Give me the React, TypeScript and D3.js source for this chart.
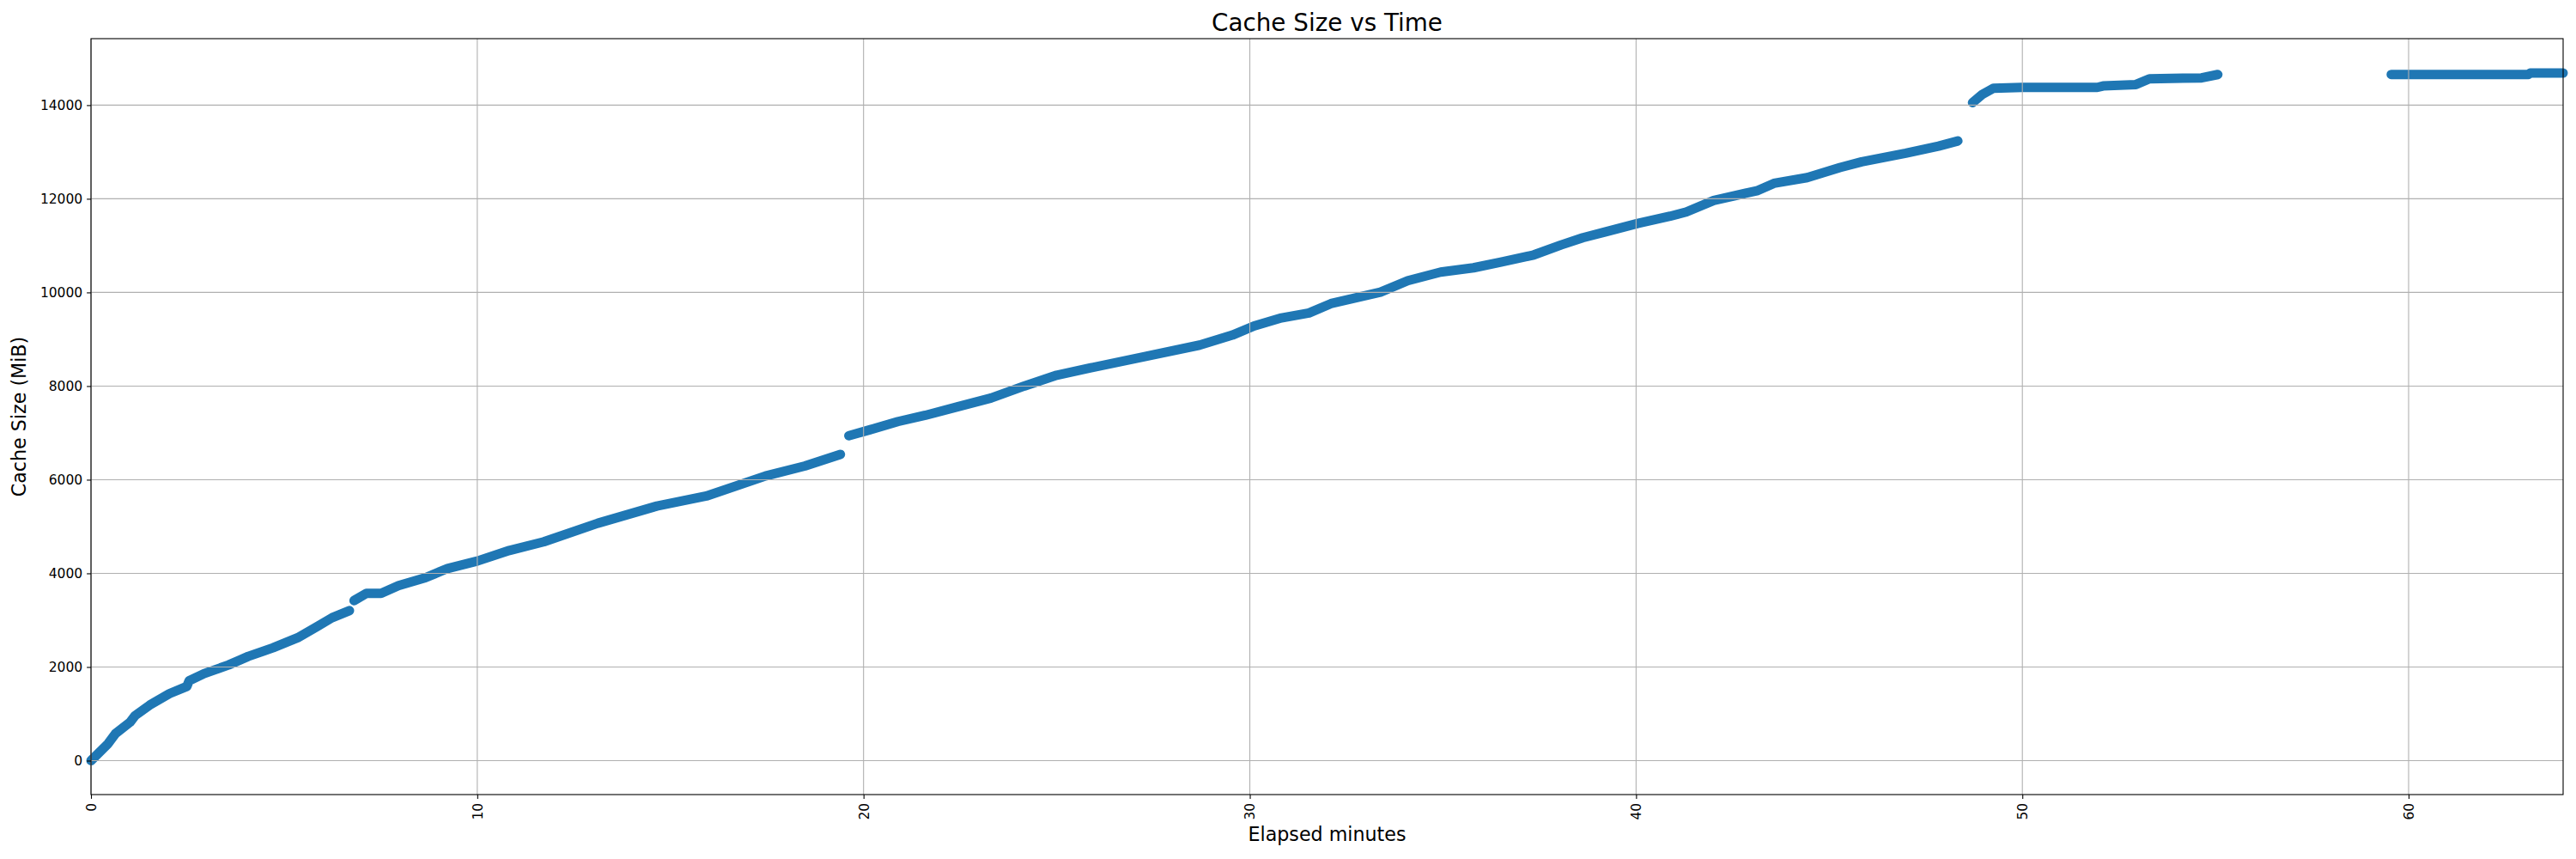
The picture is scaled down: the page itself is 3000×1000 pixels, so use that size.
import * as d3 from "d3";
import React, {useEffect, useRef} from "react";

// null marks a gap in the recording
const elapsedMinutes: number[] = [
  0, 0.44, 0.63, 1.01, 1.14, 1.52, 2.03, 2.48, 2.54, 2.93, 3.56, 4.07, 4.71, 5.35, 5.86, 6.24, 6.69,
  6.7,
  6.81, 7.13, 7.51, 7.96, 8.66, 9.23, 10.0, 10.83, 11.72, 13.12, 14.65, 15.93, 17.46, 18.48, 19.4,
  19.5,
  19.62, 20.18, 20.89, 21.6, 22.45, 23.3, 24.16, 25.0, 25.86, 27.28, 28.7, 29.55, 30.11, 30.82, 31.53,
  32.1, 33.38, 34.09, 34.94, 35.79, 36.5, 37.35, 38.06, 38.62, 39.19, 40.04, 40.88, 41.3, 42.01,
  43.15, 43.57, 44.43, 45.28, 45.84, 46.98, 47.83, 48.33,
  48.5,
  48.71, 48.96, 49.25, 49.99, 51.94, 52.09, 52.94, 53.29, 54.64, 55.06,
  57.0,
  59.55, 61.0, 63.1, 63.15, 64.0,
];

const cacheMiB: (number | null)[] = [
  0, 360, 575, 820, 960, 1186, 1431, 1584, 1706, 1859, 2043, 2226, 2410, 2624, 2868, 3052, 3205,
  null,
  3419, 3572, 3572, 3737, 3908, 4104, 4263, 4489, 4673, 5070, 5437, 5651, 6079, 6293, 6540,
  null,
  6940, 7070, 7242, 7376, 7560, 7743, 8000, 8232, 8385, 8630, 8875, 9089, 9284, 9456, 9560,
  9761, 10006, 10250, 10434, 10526, 10648, 10801, 11015, 11168, 11290, 11474, 11627, 11719, 11963,
  12177, 12330, 12453, 12667, 12789, 12972, 13125, 13235,
  null,
  14055, 14226, 14361, 14379, 14379, 14410, 14440, 14563, 14581, 14654,
  null,
  14656, 14656, 14656, 14684, 14686,
];

const xTicks = [0, 10, 20, 30, 40, 50, 60];
const yTicks = [0, 2000, 4000, 6000, 8000, 10000, 12000, 14000];

const App: React.FC = () => {
  const ref = useRef<SVGSVGElement | null>(null);

  useEffect(() => {
    const svg = d3.select(ref.current);
    svg.selectAll('*').remove();

    const width = 3000;
    const height = 1000;
    const margin = { top: 45, right: 15, bottom: 75, left: 106 };
    const font = 'DejaVu Sans, sans-serif';
    const tickFont = '15.5px';

    const xScale = d3.scaleLinear().domain([0, 64]).range([margin.left, width - margin.right]);
    const yScale = d3.scaleLinear().domain([-725, 15420]).range([height - margin.bottom, margin.top]);

    const points = elapsedMinutes.map((m, i) => ({ m, v: cacheMiB[i] }));

    const line = d3.line<{ m: number, v: number | null }>()
      .defined((d) => d.v !== null)
      .x((d) => xScale(d.m))
      .y((d) => yScale(d.v as number));

    svg.append('path')
      .datum(points)
      .attr('d', line)
      .attr('fill', 'none')
      .attr('stroke', '#1f77b4')
      .attr('stroke-width', 11)
      .attr('stroke-linecap', 'round')
      .attr('stroke-linejoin', 'round');

    // grid sits on top of the scatter, like matplotlib does
    const grid = svg.append('g').attr('stroke', '#b0b0b0').attr('stroke-width', 1.1);
    grid.selectAll('.gx').data(xTicks).enter().append('line')
      .attr('x1', (d) => xScale(d)).attr('x2', (d) => xScale(d))
      .attr('y1', margin.top).attr('y2', height - margin.bottom);
    grid.selectAll('.gy').data(yTicks).enter().append('line')
      .attr('x1', margin.left).attr('x2', width - margin.right)
      .attr('y1', (d) => yScale(d)).attr('y2', (d) => yScale(d));

    const xAxis = svg.append('g')
      .attr('transform', `translate(0, ${height - margin.bottom})`)
      .call(d3.axisBottom(xScale).tickValues(xTicks).tickSize(4.9).tickPadding(4.9).tickFormat(d3.format('d')));
    xAxis.select('.domain').remove();
    xAxis.selectAll('.tick line').attr('stroke-width', 1.1);
    xAxis.selectAll('.tick text')
      .attr('y', 0)
      .attr('dy', '0.35em')
      .attr('transform', 'translate(0, 9.8) rotate(-90)')
      .attr('text-anchor', 'end')
      .style('font-family', font)
      .style('font-size', tickFont)
      .attr('fill', 'black');

    const yAxis = svg.append('g')
      .attr('transform', `translate(${margin.left}, 0)`)
      .call(d3.axisLeft(yScale).tickValues(yTicks).tickSize(4.9).tickPadding(4.9).tickFormat(d3.format('d')));
    yAxis.select('.domain').remove();
    yAxis.selectAll('.tick line').attr('stroke-width', 1.1);
    yAxis.selectAll('.tick text')
      .style('font-family', font)
      .style('font-size', tickFont)
      .attr('fill', 'black');

    svg.append('rect')
      .attr('x', margin.left)
      .attr('y', margin.top)
      .attr('width', width - margin.right - margin.left)
      .attr('height', height - margin.bottom - margin.top)
      .attr('fill', 'none')
      .attr('stroke', 'black')
      .attr('stroke-width', 1.1);

    svg.append('text')
      .attr('x', (margin.left + width - margin.right) / 2)
      .attr('y', 36)
      .attr('text-anchor', 'middle')
      .style('font-family', font)
      .style('font-size', '27.8px')
      .text('Cache Size vs Time');

    svg.append('text')
      .attr('x', (margin.left + width - margin.right) / 2)
      .attr('y', 979)
      .attr('text-anchor', 'middle')
      .style('font-family', font)
      .style('font-size', '22.2px')
      .text('Elapsed minutes');

    svg.append('text')
      .attr('transform', `translate(30, ${(margin.top + height - margin.bottom) / 2}) rotate(-90)`)
      .attr('text-anchor', 'middle')
      .style('font-family', font)
      .style('font-size', '22.2px')
      .text('Cache Size (MiB)');

    return () => {
      svg.selectAll('*').remove();
    };
  }, []);

  return <svg ref={ref} width={3000} height={1000}
    style={{ position: 'absolute', left: 0, top: 0, background: 'white' }} />;
};

export default App;
